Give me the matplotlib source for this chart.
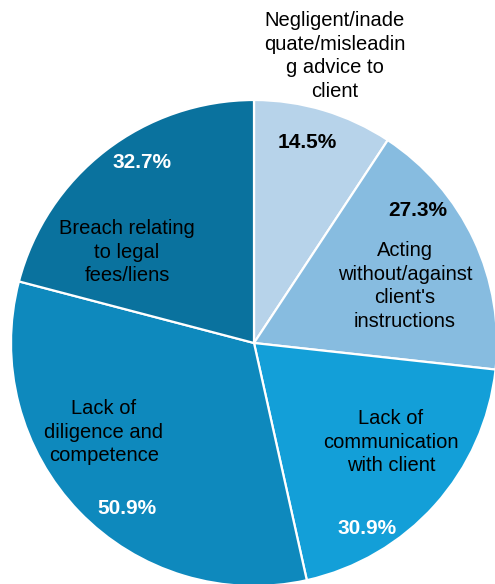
import matplotlib
matplotlib.use('Agg')
import matplotlib.pyplot as plt

# Complaint categories, with their shares as reported
categories = ['Negligent/inade\nquate/misleadin\ng advice to\nclient',
              "Acting\nwithout/against\nclient's\ninstructions",
              'Lack of\ncommunication\nwith client',
              'Lack of\ndiligence and\ncompetence',
              'Breach relating\nto legal\nfees/liens']
shares = [14.5, 27.3, 30.9, 50.9, 32.7]
colors = ['#b7d3ea', '#87bce0', '#139fd8', '#0e89bd', '#0a729e']

# Where each text sits (figure pixels, y measured from the top)
name_pos = [(335, 56), (405, 286), (391, 442), (104, 432), (127, 252)]
pct_pos = [(307, 142), (418, 210), (367, 528), (127, 508), (142, 162)]
pct_color = ['black', 'black', 'white', 'white', 'white']

W, H = 495, 584
CX, CY, R = 254, 343, 243

plt.rcParams['font.family'] = ['Liberation Sans', 'DejaVu Sans']

fig = plt.figure(figsize=(W / 100, H / 100), dpi=100)
ax = fig.add_axes([0, 0, 1, 1])
ax.pie(shares, colors=colors, startangle=90, counterclock=False,
       center=(CX, H - CY), radius=R,
       wedgeprops=dict(edgecolor='white', linewidth=1.6))
ax.set_xlim(0, W)
ax.set_ylim(0, H)
ax.axis('off')

for name, (x, y) in zip(categories, name_pos):
    ax.text(x, H - y, name, ha='center', va='center', fontsize=14.5,
            linespacing=1.33, color='black')
for val, (x, y), c in zip(shares, pct_pos, pct_color):
    ax.text(x, H - y, '{:.1f}%'.format(val), ha='center', va='center',
            fontsize=15, fontweight='bold', color=c)

plt.savefig('out.png', dpi=100)
